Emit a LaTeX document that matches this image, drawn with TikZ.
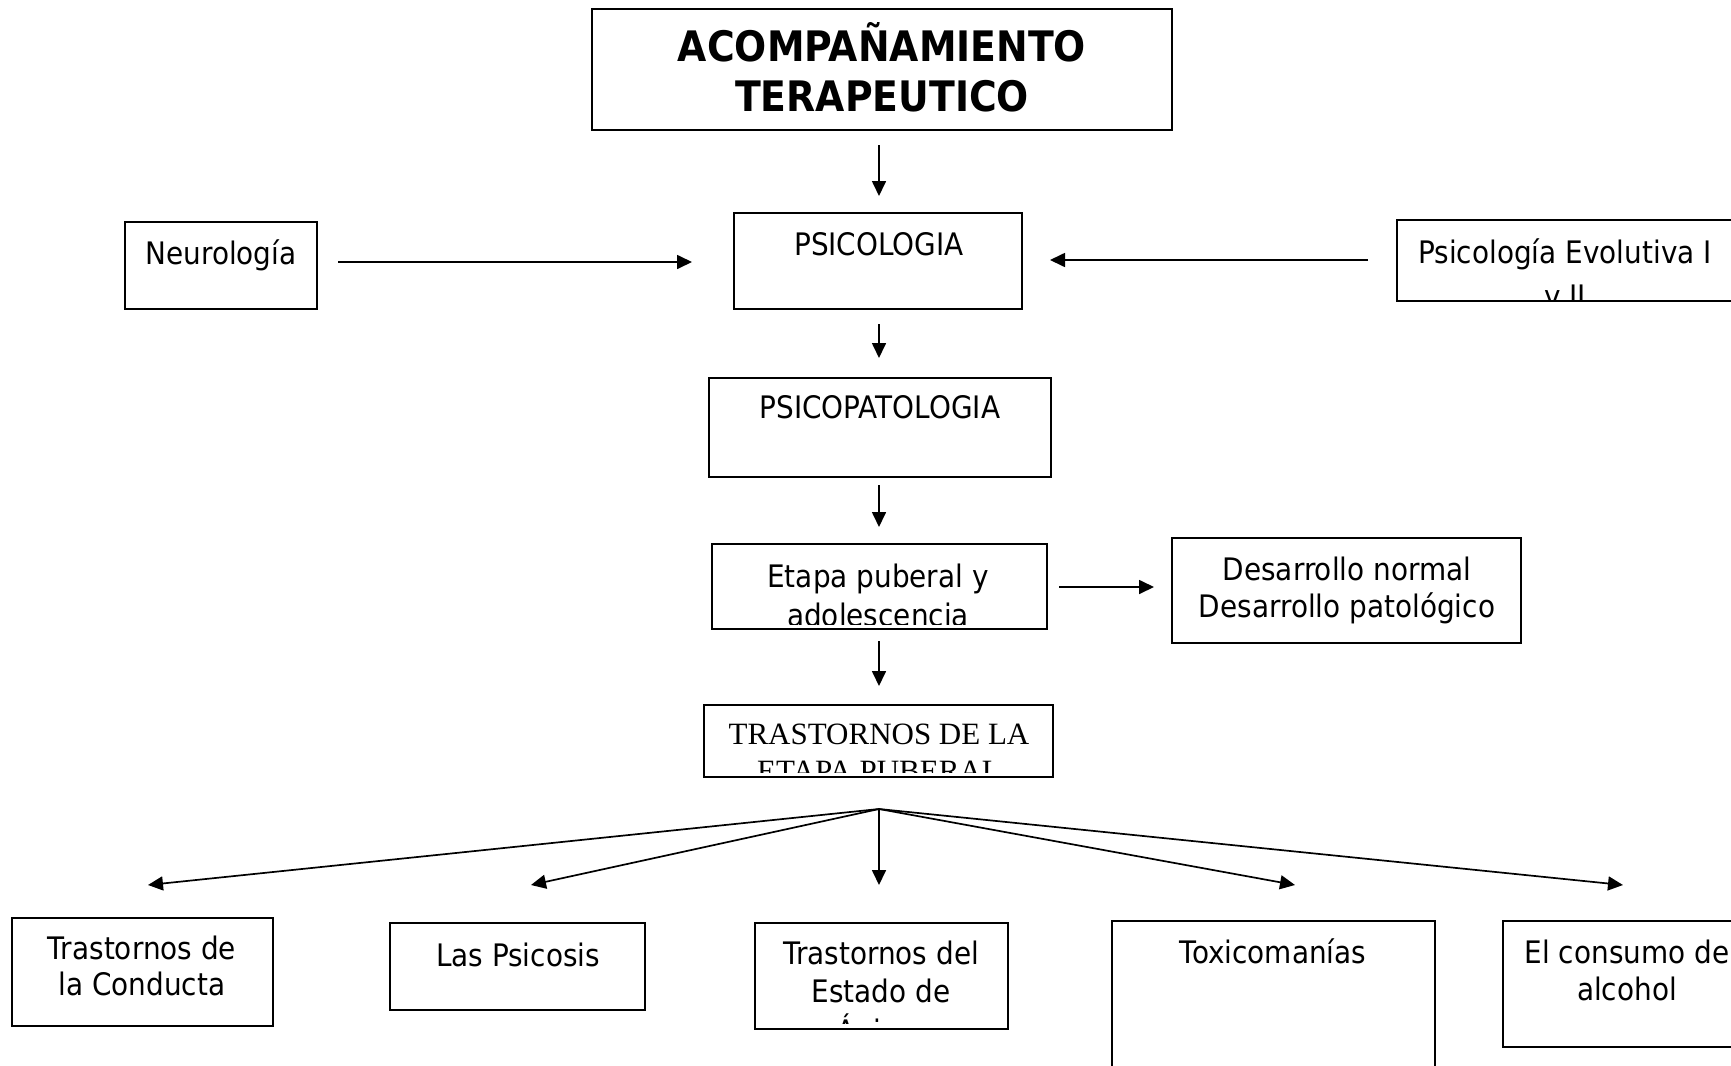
\documentclass[tikz,border=0pt]{standalone}
\usepackage{fontspec}
\setmainfont{DejaVu Sans}[FakeStretch=0.9]
\newfontfamily\serifTNR{Liberation Serif}
\usetikzlibrary{arrows.meta,fit}
\begin{document}
\begin{tikzpicture}[x=0.5pt,y=-0.5pt,
  box/.style={draw, line width=1pt, inner sep=0pt, rectangle},
  arr/.style={-{Triangle[length=7.5pt,width=7pt]}, line width=0.85pt},
  lbl/.style={anchor=base, inner sep=0pt, font=\fontsize{15.5}{18}\selectfont},
  ttl/.style={anchor=base, inner sep=0pt, font=\fontsize{21}{25}\selectfont\bfseries},
  tnr/.style={anchor=base, inner sep=0pt, font=\fontsize{15.5}{18}\selectfont\serifTNR}]
\useasboundingbox[fill=white] (0,0) rectangle (1731,1066);

% boxes
\node[box, fit={(592,9) (1172,130)}] (title) {};
\node[box, fit={(734,213) (1022,309)}] (psico) {};
\node[box, fit={(125,222) (317,309)}] (neuro) {};
\node[box, fit={(1397,220) (1765,301)}] (evol) {};
\node[box, fit={(709,378) (1051,477)}] (psicopat) {};
\node[box, fit={(712,544) (1047,629)}] (etapa) {};
\node[box, fit={(1172,538) (1521,643)}] (desarr) {};
\node[box, fit={(704,705) (1053,777)}] (trast) {};
\node[box, fit={(12,918) (273,1026)}] (b1) {};
\node[box, fit={(390,923) (645,1010)}] (b2) {};
\node[box, fit={(755,923) (1008,1029)}] (b3) {};
\node[box, fit={(1112,921) (1435,1095)}] (b4) {};
\node[box, fit={(1503,921) (1765,1047)}] (b5) {};

% texts
\node[ttl] (t1) at (882,61) {ACOMPAÑAMIENTO};
\node[ttl] (t2) at (882,111) {TERAPEUTICO};
\node[lbl] (tpsico) at (879,255) {PSICOLOGIA};
\node[lbl] (tneuro) at (221,264) {Neurología};
\begin{scope}
  \clip ([yshift=1pt]evol.south west) rectangle (evol.north east);
  \node[lbl] (tevol1) at (1565,263) {Psicología Evolutiva I};
  \node[lbl] (tevol2) at (1565,307) {y II};
\end{scope}
\node[lbl] (tpsicopat) at (880,418) {PSICOPATOLOGIA};
\begin{scope}
  \clip ([yshift=3pt]etapa.south west) rectangle (etapa.north east);
  \node[lbl] (tetapa1) at (878,587) {Etapa puberal y};
  \node[lbl] (tetapa2) at (878,626) {adolescencia};
\end{scope}
\node[lbl] (tdes1) at (1347,580) {Desarrollo normal};
\node[lbl] (tdes2) at (1347,617) {Desarrollo patológico};
\begin{scope}
  \clip ([yshift=3pt]trast.south west) rectangle (trast.north east);
  \node[tnr] (ttr1) at (879,744) {TRASTORNOS DE LA};
  \node[tnr] (ttr2) at (879,781) {ETAPA PUBERAL};
\end{scope}
\node[lbl] (tb1a) at (142,959) {Trastornos de};
\node[lbl] (tb1b) at (142,995) {la Conducta};
\node[lbl] (tb2) at (518,966) {Las Psicosis};
\begin{scope}
  \clip ([yshift=3.5pt]b3.south west) rectangle (b3.north east);
  \node[lbl] (tb3a) at (881,964) {Trastornos del};
  \node[lbl] (tb3b) at (881,1002) {Estado de};
  \node[lbl] (tb3c) at (881,1042) {Ánimo};
\end{scope}
\node[lbl] (tb4) at (1273,963) {Toxicomanías};
\node[lbl] (tb5a) at (1627,963) {El consumo de};
\node[lbl] (tb5b) at (1627,1000) {alcohol};

% connectors
\coordinate (ax) at (879,0);
\draw[arr] (title.south -| ax) ++(0,14) -- ([yshift=8pt]psico.north -| ax);
\draw[arr] (psico.south -| ax) ++(0,14) -- ([yshift=9.5pt]psicopat.north -| ax);
\draw[arr] (psicopat.south -| ax) ++(0,7) -- ([yshift=8pt]etapa.north -| ax);
\draw[arr] (etapa.south -| ax) ++(0,11) -- ([yshift=9pt]trast.north -| ax);

\coordinate (yn) at (0,262);
\draw[arr] ([xshift=10pt]neuro.east |- yn) -- ([xshift=-20.5pt]psico.west |- yn);
\coordinate (ye) at (0,260);
\draw[arr] ([xshift=-14pt]evol.west |- ye) -- ([xshift=13.5pt]psico.east |- ye);
\coordinate (yd) at (0,587);
\draw[arr] ([xshift=5.5pt]etapa.east |- yd) -- ([xshift=-8.5pt]desarr.west |- yd);

\coordinate (fork) at (879,809);
\coordinate (e1) at (148,885);
\coordinate (e2) at (531,885);
\coordinate (e3) at (879,885);
\coordinate (e4) at (1295,885);
\coordinate (e5) at (1623,885);
\foreach \e in {e1,e2,e3,e4,e5} \draw[arr] (fork) -- (\e);
\end{tikzpicture}
\end{document}
